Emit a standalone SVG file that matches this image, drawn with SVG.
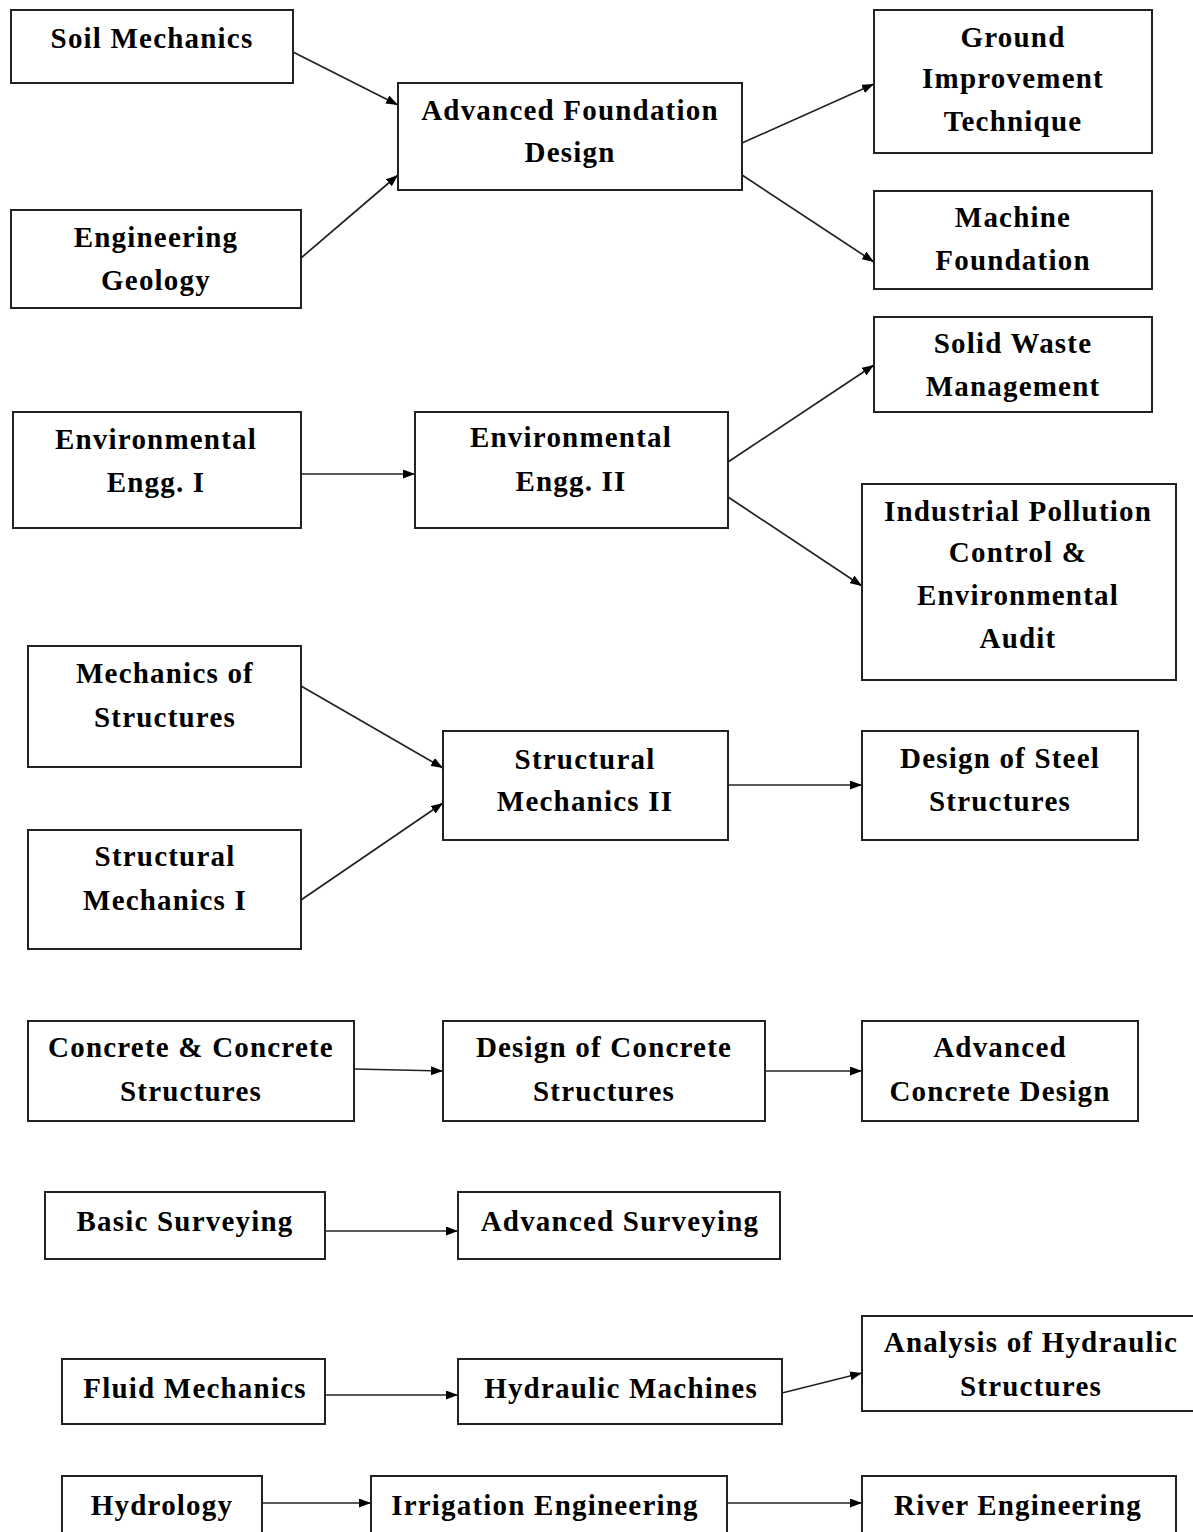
<svg xmlns="http://www.w3.org/2000/svg" width="1193" height="1532" viewBox="0 0 1193 1532">
<style>
rect.b{fill:#fff;stroke:#222;stroke-width:2}
text{font-family:"Liberation Serif","Times New Roman",serif;font-weight:bold;font-size:29px;letter-spacing:1.2px;fill:#000;text-anchor:middle;dominant-baseline:central}
.c line{stroke:#222;stroke-width:1.7;marker-end:url(#ah)}
</style>
<defs>
<marker id="ah" viewBox="0 0 12 9" refX="12" refY="4.5" markerWidth="12" markerHeight="9" markerUnits="userSpaceOnUse" orient="auto">
<path d="M0,0 L12,4.5 L0,9 z" fill="#000"/>
</marker>
</defs>
<rect width="1193" height="1532" fill="#fff"/>
<g class="c" id="connectors">
<line x1="293" y1="52" x2="398" y2="105"/>
<line x1="301" y1="258" x2="398" y2="175"/>
<line x1="742" y1="143" x2="874" y2="84"/>
<line x1="742" y1="175" x2="874" y2="262"/>
<line x1="301" y1="474" x2="415" y2="474"/>
<line x1="728" y1="462" x2="874" y2="365"/>
<line x1="728" y1="497" x2="862" y2="586"/>
<line x1="301" y1="686" x2="443" y2="768"/>
<line x1="301" y1="900" x2="443" y2="803"/>
<line x1="728" y1="785" x2="862" y2="785"/>
<line x1="354" y1="1069" x2="443" y2="1071"/>
<line x1="765" y1="1071" x2="862" y2="1071"/>
<line x1="325" y1="1231" x2="458" y2="1231"/>
<line x1="325" y1="1395" x2="458" y2="1395"/>
<line x1="782" y1="1393" x2="862" y2="1373"/>
<line x1="262" y1="1503" x2="371" y2="1503"/>
<line x1="727" y1="1503" x2="862" y2="1503"/>
</g>
<g id="soil"><rect class="b" x="11" y="10" width="282" height="73"/><text x="152" y="38">Soil Mechanics</text></g>
<g id="geology"><rect class="b" x="11" y="210" width="290" height="98"/><text x="156" y="237">Engineering</text><text x="156" y="280">Geology</text></g>
<g id="afd"><rect class="b" x="398" y="83" width="344" height="107"/><text x="570" y="110">Advanced Foundation</text><text x="570" y="152">Design</text></g>
<g id="git"><rect class="b" x="874" y="10" width="278" height="143"/><text x="1013" y="37">Ground</text><text x="1013" y="78">Improvement</text><text x="1013" y="121">Technique</text></g>
<g id="mf"><rect class="b" x="874" y="191" width="278" height="98"/><text x="1013" y="217">Machine</text><text x="1013" y="260">Foundation</text></g>
<g id="swm"><rect class="b" x="874" y="317" width="278" height="95"/><text x="1013" y="343">Solid Waste</text><text x="1013" y="386">Management</text></g>
<g id="ee1"><rect class="b" x="13" y="412" width="288" height="116"/><text x="156" y="439">Environmental</text><text x="156" y="482">Engg. I</text></g>
<g id="ee2"><rect class="b" x="415" y="412" width="313" height="116"/><text x="571" y="437">Environmental</text><text x="571" y="481">Engg. II</text></g>
<g id="ipc"><rect class="b" x="862" y="484" width="314" height="196"/><text x="1018" y="511">Industrial Pollution</text><text x="1018" y="552">Control &amp;</text><text x="1018" y="595">Environmental</text><text x="1018" y="638">Audit</text></g>
<g id="mos"><rect class="b" x="28" y="646" width="273" height="121"/><text x="165" y="673">Mechanics of</text><text x="165" y="717">Structures</text></g>
<g id="sm2"><rect class="b" x="443" y="731" width="285" height="109"/><text x="585" y="759">Structural</text><text x="585" y="801">Mechanics II</text></g>
<g id="dss"><rect class="b" x="862" y="731" width="276" height="109"/><text x="1000" y="758">Design of Steel</text><text x="1000" y="801">Structures</text></g>
<g id="sm1"><rect class="b" x="28" y="830" width="273" height="119"/><text x="165" y="856">Structural</text><text x="165" y="900">Mechanics I</text></g>
<g id="ccs"><rect class="b" x="28" y="1021" width="326" height="100"/><text x="191" y="1047">Concrete &amp; Concrete</text><text x="191" y="1091">Structures</text></g>
<g id="dcs"><rect class="b" x="443" y="1021" width="322" height="100"/><text x="604" y="1047">Design of Concrete</text><text x="604" y="1091">Structures</text></g>
<g id="acd"><rect class="b" x="862" y="1021" width="276" height="100"/><text x="1000" y="1047">Advanced</text><text x="1000" y="1091">Concrete Design</text></g>
<g id="bs"><rect class="b" x="45" y="1192" width="280" height="67"/><text x="185" y="1221">Basic Surveying</text></g>
<g id="as"><rect class="b" x="458" y="1192" width="322" height="67"/><text x="620" y="1221">Advanced Surveying</text></g>
<g id="fm"><rect class="b" x="62" y="1359" width="263" height="65"/><text x="195" y="1388">Fluid Mechanics</text></g>
<g id="hm"><rect class="b" x="458" y="1359" width="324" height="65"/><text x="621" y="1388">Hydraulic Machines</text></g>
<g id="ahs"><rect class="b" x="862" y="1316" width="340" height="95"/><text x="1031" y="1342">Analysis of Hydraulic</text><text x="1031" y="1386">Structures</text></g>
<g id="hyd"><rect class="b" x="62" y="1476" width="200" height="80"/><text x="162" y="1505">Hydrology</text></g>
<g id="ie"><rect class="b" x="371" y="1476" width="356" height="80"/><text x="545" y="1505">Irrigation Engineering</text></g>
<g id="re"><rect class="b" x="862" y="1476" width="314" height="80"/><text x="1018" y="1505">River Engineering</text></g>
</svg>
